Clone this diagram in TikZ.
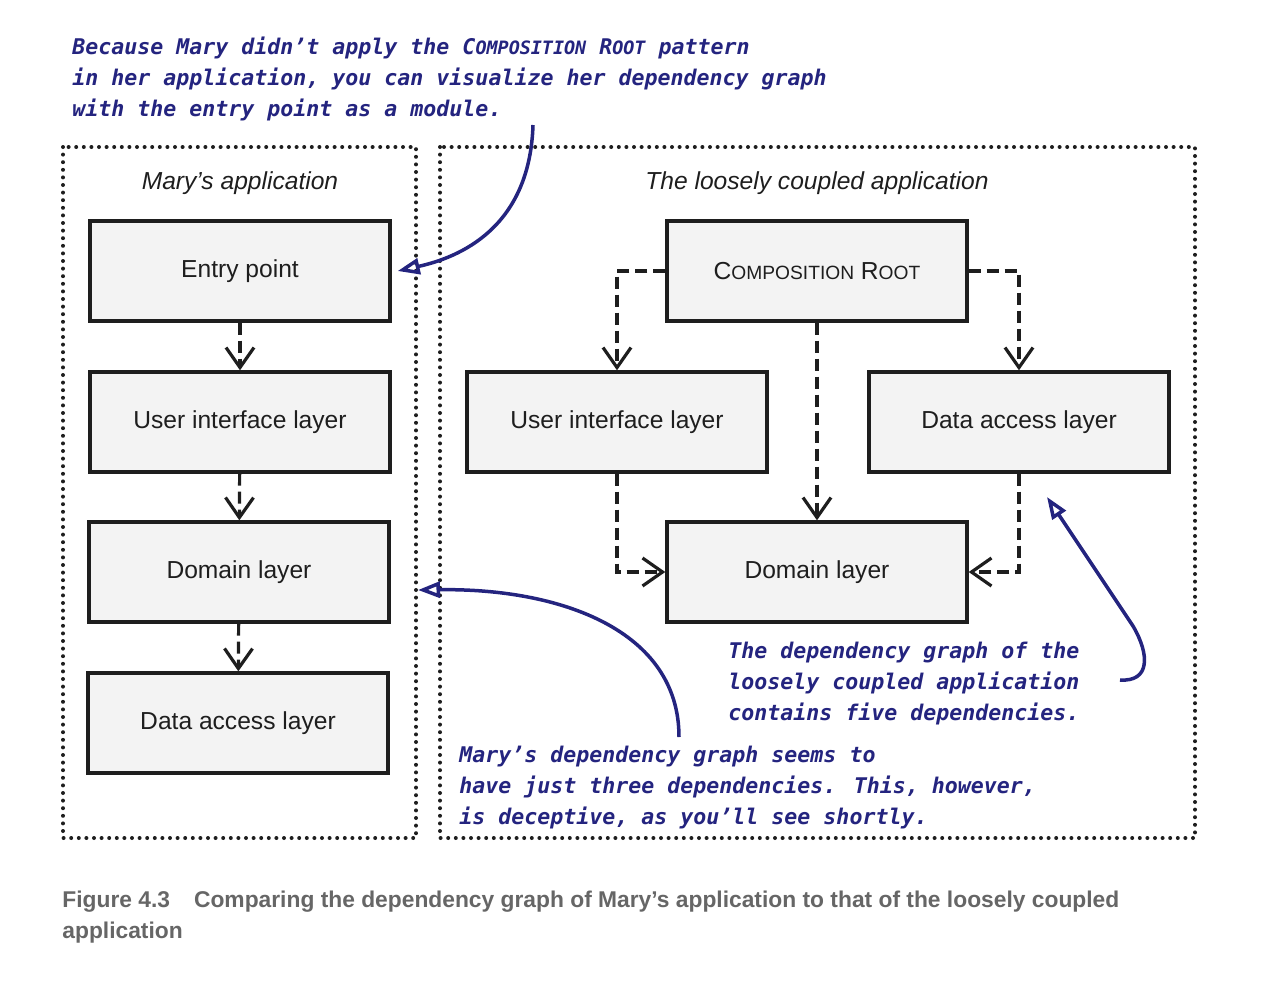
\documentclass[tikz,border=0pt]{standalone}
\usepackage{fontspec}
\setmainfont{Liberation Sans}
\newfontfamily\handfont{DejaVu Sans Mono}
\newfontfamily\capfont{Liberation Sans}
\usetikzlibrary{arrows.meta}

\definecolor{navy}{HTML}{24247F}
\definecolor{boxgray}{HTML}{F3F3F3}
\definecolor{capgray}{HTML}{666666}
\definecolor{ink}{HTML}{1E1E1E}

% fake small caps (the fonts have none)
\newcommand{\boxsc}[2]{#1{\fontsize{9.6}{10}\selectfont #2}}
\newcommand{\handsc}[2]{#1{\fontsize{9.2}{10}\selectfont #2}}

\tikzset{
  layer/.style={draw=ink, line width=1.7pt, fill=boxgray, text=ink,
    minimum width=150pt, minimum height=50pt, font=\fontsize{12.3}{14}\selectfont},
  dep/.style={draw=ink, line width=1.6pt, dash pattern=on 6pt off 3pt,
    -{Straight Barb[length=10pt,width=14pt]}},
  frame/.style={draw=ink, line width=2pt, dash pattern=on 0pt off 3.8pt, line cap=round},
  apptitle/.style={text=ink, font=\itshape\fontsize{12.3}{14}\selectfont},
  note/.style={draw=navy, line width=1.75pt, -{Triangle[open,length=11pt,width=8pt]}},
  notetext/.style={text=navy, font=\handfont\bfseries\itshape\fontsize{10.8}{15.3}\selectfont,
    align=left, anchor=north west, inner sep=0pt},
}

\begin{document}
\begin{tikzpicture}[x=0.5pt, y=-0.5pt]

\useasboundingbox (0,0) rectangle (1286,996);

% Dotted frames round the two applications
\draw[frame] (63,147) rectangle (416,838); % Mary's application
\draw[frame] (440,147) rectangle (1195,838); % loosely coupled application

\node[apptitle] (marytitle) at (240,183) {Mary\symbol{39}s application};
\node[apptitle] (loosetitle) at (817,183) {The loosely coupled application};

% Mary's application: one layer on top of the other
\node[layer] (entry) at (240,271) {Entry point};
\node[layer] (ui) at (240,422) {User interface layer};
\node[layer] (domain) at (239,572) {Domain layer};
\node[layer] (data) at (238,723) {Data access layer};

\draw[dep] (entry) -- (ui);
\draw[dep] (ui) -- (domain);
\draw[dep] (domain) -- (data);

% Loosely coupled application
\node[layer] (root) at (817,271) {\boxsc{C}{OMPOSITION} \boxsc{R}{OOT}};
\node[layer] (looseui) at (617,422) {User interface layer};
\node[layer] (loosedata) at (1019,422) {Data access layer};
\node[layer] (loosedomain) at (817,572) {Domain layer};

\draw[dep] (root.west) -| (looseui.north);
\draw[dep] (root.east) -| (loosedata.north);
\draw[dep] (root) -- (loosedomain);
\draw[dep] (looseui.south) |- (loosedomain.west);
\draw[dep] (loosedata.south) |- (loosedomain.east);

% Hand-written notes
\node[notetext] (topnote) at (72,37) {Because Mary didn’t apply the \handsc{C}{OMPOSITION} \handsc{R}{OOT} pattern\\in her application, you can visualize her dependency graph\\with the entry point as a module.};
\node[notetext] (loosenote) at (728,642) {The dependency graph of the\\loosely coupled application\\contains five dependencies.};
\node[notetext] (marynote) at (459,746) {Mary’s dependency graph seems to\\have just three dependencies. This, however,\\is deceptive, as you’ll see shortly.};

% Note arrows
\coordinate (topnoteend) at (533,125);
\coordinate (marynoteend) at (679,737);
\coordinate (marytip) at (418,590);
\coordinate (loosenoteend) at (1120,680);
\coordinate (loosetip) at (1047,497);

\draw[note] (topnoteend) .. controls (530,220) and (470,255) .. ([xshift=3pt]entry.east);
\draw[note] (marynoteend) .. controls (679,630) and (560,588) .. (marytip);
\draw[note] (loosenoteend) .. controls (1150,682) and (1150,655) .. (1133,626) -- (loosetip);

% Caption
\node[text=capgray, font=\capfont\bfseries\fontsize{11.4}{15.5}\selectfont, align=left,
  anchor=north west, inner sep=0pt] (caption) at (62,891)
  {Figure 4.3\hspace{12pt}Comparing the dependency graph of Mary’s application to that of the loosely coupled\\application};

\end{tikzpicture}
\end{document}
